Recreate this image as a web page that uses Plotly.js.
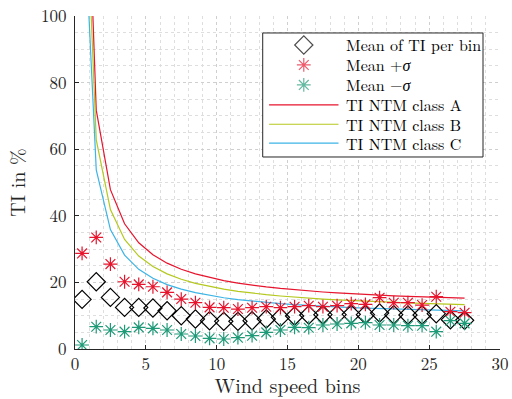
<!DOCTYPE html>
<html>
<head>
<meta charset="utf-8">
<script src="https://cdn.plot.ly/plotly-3.0.1.min.js"></script>
<style>html,body{margin:0;padding:0;background:#fff}#chart{width:512px;height:399px}</style>
</head>
<body>
<div id="chart"></div>
<script>
// Wind speed bin centres
const windBins = [0.5,1.5,2.5,3.5,4.5,5.5,6.5,7.5,8.5,9.5,10.5,11.5,12.5,13.5,14.5,15.5,16.5,17.5,18.5,19.5,20.5,21.5,22.5,23.5,24.5,25.5,26.5,27.5];
// Mean of TI per bin (%)
const meanTI = [14.9,20.2,15.5,12.5,12.5,12.3,11.5,10.0,9.0,8.5,8.3,8.3,8.5,9.0,9.5,9.9,10.2,10.3,10.3,10.4,10.3,10.8,10.3,10.2,10.2,10.6,8.8,8.6];
// Mean + sigma (%)
const meanPlusSigma = [28.7,33.5,25.5,20.2,19.4,18.7,17.0,15.0,13.9,12.5,12.4,12.0,12.4,12.7,12.4,12.7,13.0,12.7,13.0,13.6,13.4,15.4,13.9,13.9,13.2,15.7,11.2,10.9];
// Mean - sigma (%)
const meanMinusSigma = [1.2,6.7,5.7,5.2,6.5,6.2,5.7,4.5,3.9,3.2,3.0,3.4,4.0,5.0,5.7,6.5,6.4,7.2,7.5,7.7,7.9,7.2,7.2,7.0,7.0,5.2,8.5,7.7];
// TI NTM curves (%)
const ntmA = [191.2,71.73,47.84,37.60,31.91,28.29,25.78,23.95,22.54,21.43,20.53,19.79,19.17,18.64,18.18,17.78,17.43,17.12,16.84,16.59,16.37,16.17,15.98,15.81,15.66,15.51,15.38,15.26];
const ntmB = [167.3,62.77,41.86,32.90,27.92,24.75,22.56,20.95,19.72,18.75,17.97,17.32,16.77,16.31,15.91,15.56,15.25,14.98,14.74,14.52,14.32,14.15,13.98,13.84,13.70,13.57,13.46,13.35];
const ntmC = [143.4,53.80,35.88,28.20,23.93,21.22,19.34,17.96,16.91,16.07,15.40,14.84,14.38,13.98,13.63,13.34,13.07,12.84,12.63,12.45,12.28,12.13,11.99,11.86,11.74,11.64,11.54,11.44];
// Legend labels
const legendLabels = ['Mean of TI per bin','Mean +<i>σ</i>','Mean −<i>σ</i>','TI NTM class A','TI NTM class B','TI NTM class C'];

const RED = '#e6142d', GREEN = '#1f9a78', YEL = '#b4c81e', CYAN = '#3cb4e6';
const FONT = 'Latin Modern Roman';

const traces = [
  {x: windBins, y: ntmA, mode: 'lines', line: {color: RED, width: 1.2}, name: 'TI NTM class A', showlegend: false, hoverinfo: 'skip'},
  {x: windBins, y: ntmB, mode: 'lines', line: {color: YEL, width: 1.2}, name: 'TI NTM class B', showlegend: false, hoverinfo: 'skip'},
  {x: windBins, y: ntmC, mode: 'lines', line: {color: CYAN, width: 1.2}, name: 'TI NTM class C', showlegend: false, hoverinfo: 'skip'},
  {x: windBins, y: meanTI, mode: 'markers', marker: {symbol: 'diamond-open', size: 14, color: '#000', line: {width: 1.2, color: '#000'}}, name: 'Mean of TI per bin', showlegend: false},
  {x: windBins, y: meanPlusSigma, mode: 'markers', marker: {symbol: 'asterisk-open', size: 11.5, color: RED, line: {width: 1.2, color: RED}}, name: 'Mean +σ', showlegend: false},
  {x: windBins, y: meanMinusSigma, mode: 'markers', marker: {symbol: 'asterisk-open', size: 11.5, color: GREEN, line: {width: 1.2, color: GREEN}}, name: 'Mean −σ', showlegend: false}
];

// Custom legend (layout positions in axis units)
const lgX0 = 13.25, lgX1 = 28.8, lgY0 = 57.66, lgY1 = 94.9;
const rowY = [91.3, 85.3, 79.3, 73.3, 67.5, 61.8];
const keyX = 16.15, lineX0 = 13.7, lineX1 = 18.6, textX = 19.05;

traces.push({
  x: [keyX, keyX, keyX], y: rowY.slice(0, 3), mode: 'markers', showlegend: false, hoverinfo: 'skip',
  marker: {symbol: ['diamond-open','asterisk-open','asterisk-open'], size: [14,11.5,11.5],
           color: ['#000', RED, GREEN], line: {width: 1.2, color: ['#000', RED, GREEN]}}
});

const shapes = [
  {type: 'rect', xref: 'x', yref: 'y', x0: lgX0, x1: lgX1, y0: lgY0, y1: lgY1, layer: 'between',
   fillcolor: '#fff', line: {color: '#262626', width: 1}}
];
[RED, YEL, CYAN].forEach((c, i) => shapes.push({type: 'line', xref: 'x', yref: 'y', x0: lineX0, x1: lineX1,
  y0: rowY[3 + i], y1: rowY[3 + i], layer: 'between', line: {color: c, width: 1.2}}));

const annotations = legendLabels.map((t, i) => ({
  x: textX, y: rowY[i], xref: 'x', yref: 'y', text: t, showarrow: false, xanchor: 'left', yanchor: 'middle',
  borderpad: 0, font: {family: FONT, size: 16, color: '#000'}
}));

const gridCol = '#cfcfcf';
const layout = {
  width: 512, height: 399,
  margin: {l: 75, r: 12, t: 16, b: 50},
  paper_bgcolor: '#fff', plot_bgcolor: '#fff',
  font: {family: FONT, size: 17, color: '#262626'},
  xaxis: {
    range: [0, 30], tick0: 0, dtick: 5, ticks: 'inside', ticklen: 4, tickcolor: '#262626',
    showline: true, linecolor: '#262626', linewidth: 1, mirror: false, zeroline: false,
    showgrid: true, gridcolor: gridCol, griddash: 'dot', gridwidth: 1,
    minor: {dtick: 1, showgrid: true, gridcolor: '#dedede', griddash: 'dot', gridwidth: 1},
    tickfont: {family: FONT, size: 17, color: '#262626'},
    title: {text: 'Wind speed bins', font: {family: FONT, size: 20, color: '#262626'}, standoff: 7},
    fixedrange: true
  },
  yaxis: {
    range: [0, 100], tick0: 0, dtick: 20, ticks: 'inside', ticklen: 4, tickcolor: '#262626',
    showline: true, linecolor: '#262626', linewidth: 1, mirror: false, zeroline: false,
    showgrid: true, gridcolor: gridCol, griddash: 'dot', gridwidth: 1,
    minor: {dtick: 5, showgrid: true, gridcolor: '#dedede', griddash: 'dot', gridwidth: 1},
    tickfont: {family: FONT, size: 17, color: '#262626'},
    ticklabelstandoff: 4,
    title: {text: 'TI in %', font: {family: FONT, size: 20, color: '#262626'}, standoff: 10},
    fixedrange: true
  },
  shapes: shapes,
  annotations: annotations,
  showlegend: false
};

Plotly.newPlot('chart', traces, layout, {displayModeBar: false, staticPlot: true});
</script>
</body>
</html>
